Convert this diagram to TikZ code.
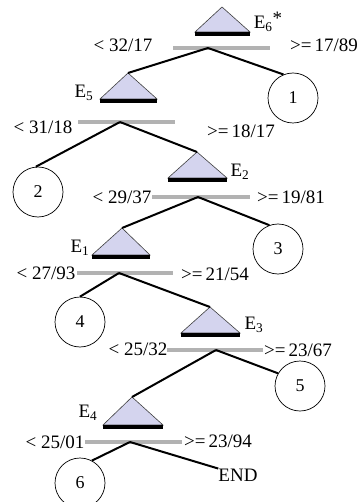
\documentclass[tikz,border=0pt]{standalone}
\usepackage{fontspec}
\setmainfont{Liberation Serif}
\definecolor{trifill}{RGB}{212,212,238}
\definecolor{bargray}{RGB}{178,178,178}
\begin{document}
\begin{tikzpicture}[x=1pt,y=-1pt,
  lbl/.style={font=\fontsize{19}{19}\selectfont, inner sep=0pt},
  elbl/.style={font=\fontsize{19}{19}\selectfont, inner sep=0pt},
  leaf/.style={draw, circle, minimum size=50pt, inner sep=0pt, line width=0.7pt, font=\fontsize{18}{18}\selectfont},
  edge/.style={line width=2pt, black},
  tri/.style={fill=trifill, draw=black!75, line width=0.6pt},
  blackbar/.style={fill=black},
  graybar/.style={line width=4pt, bargray}]
\useasboundingbox (0,0) rectangle (360,502);
\fill[white] (0,0) rectangle (360,502);
% E6*
\path[tri] (222,7) -- (250,32) -- (195,32) -- cycle;
\fill[blackbar] (195,32) rectangle (250,36);
\draw[graybar] (173,48) -- (270,48);
\coordinate (b1) at (208,48);
\coordinate (a1) at (222,7);
\node[elbl] (e1) at (268,22) {E\textsubscript{6}\raisebox{0.5ex}{*}};
\node[lbl] (l1) at (123,45) {< 32/17};
\node[lbl] (r1) at (324,45) {>=\,17/89};
% E5
\path[tri] (128,73) -- (157,99) -- (100,99) -- cycle;
\fill[blackbar] (100,99) rectangle (157,103);
\draw[graybar] (78,122) -- (175,122);
\coordinate (a2) at (128,73);
\coordinate (b2) at (120,122);
\node[elbl] (e2) at (84,93) {E\textsubscript{5}};
\node[lbl] (l2) at (43,127) {< 31/18};
\node[lbl] (r2) at (241,131) {>=\,18/17};
% E2
\path[tri] (197,152) -- (227,178) -- (168,178) -- cycle;
\fill[blackbar] (168,178) rectangle (227,182);
\draw[graybar] (152,197) -- (250,197);
\coordinate (a3) at (197,152);
\coordinate (b3) at (198,197);
\node[elbl] (e3) at (240,172) {E\textsubscript{2}};
\node[lbl] (l3) at (122,197) {< 29/37};
\node[lbl] (r3) at (291,197) {>=\,19/81};
% E1
\path[tri] (122,228) -- (150,255) -- (92,255) -- cycle;
\fill[blackbar] (92,255) rectangle (150,259);
\draw[graybar] (77,273) -- (173,273);
\coordinate (a4) at (122,228);
\coordinate (b4) at (119,273);
\node[elbl] (e4) at (80,248) {E\textsubscript{1}};
\node[lbl] (l4) at (46,273) {< 27/93};
\node[lbl] (r4) at (215,274) {>=\,21/54};
% E3
\path[tri] (210,307) -- (240,333) -- (181,333) -- cycle;
\fill[blackbar] (181,333) rectangle (240,337);
\draw[graybar] (167,350) -- (263,350);
\coordinate (a5) at (210,307);
\coordinate (b5) at (216,350);
\node[elbl] (e5) at (254,325) {E\textsubscript{3}};
\node[lbl] (l5) at (138,349) {< 25/32};
\node[lbl] (r5) at (298,350) {>=\,23/67};
% E4
\path[tri] (132,397) -- (163,425) -- (103,425) -- cycle;
\fill[blackbar] (103,425) rectangle (163,429);
\draw[graybar] (85,442) -- (182,442);
\coordinate (a6) at (132,397);
\coordinate (b6) at (130,442);
\node[elbl] (e6) at (88,413) {E\textsubscript{4}};
\node[lbl] (l6) at (55,442) {< 25/01};
\node[lbl] (r6) at (218,441) {>=\,23/94};
% leaves
\node[leaf] (c1) at (293,98) {1};
\node[leaf] (c2) at (38,192) {2};
\node[leaf] (c3) at (278,249) {3};
\node[leaf] (c4) at (80,322) {4};
\node[leaf] (c5) at (300,386) {5};
\node[leaf] (c6) at (80,483) {6};
\node[lbl] (end) at (238,475) {END};
% edges
\draw[edge] (b1) -- (a2);
\draw[edge] (b1) -- (c1.112);
\draw[edge] (b2) -- (c2.95);
\draw[edge] (b2) -- (a3);
\draw[edge] (b3) -- (c3.110);
\draw[edge] (b3) -- (a4);
\draw[edge] (b4) -- (c4.90);
\draw[edge] (b4) -- (a5);
\draw[edge] (b5) -- (c5.150);
\draw[edge] (b5) -- (a6);
\draw[edge] (b6) -- (c6.62);
\draw[edge] (b6) -- (end.north west);
\end{tikzpicture}
\end{document}
